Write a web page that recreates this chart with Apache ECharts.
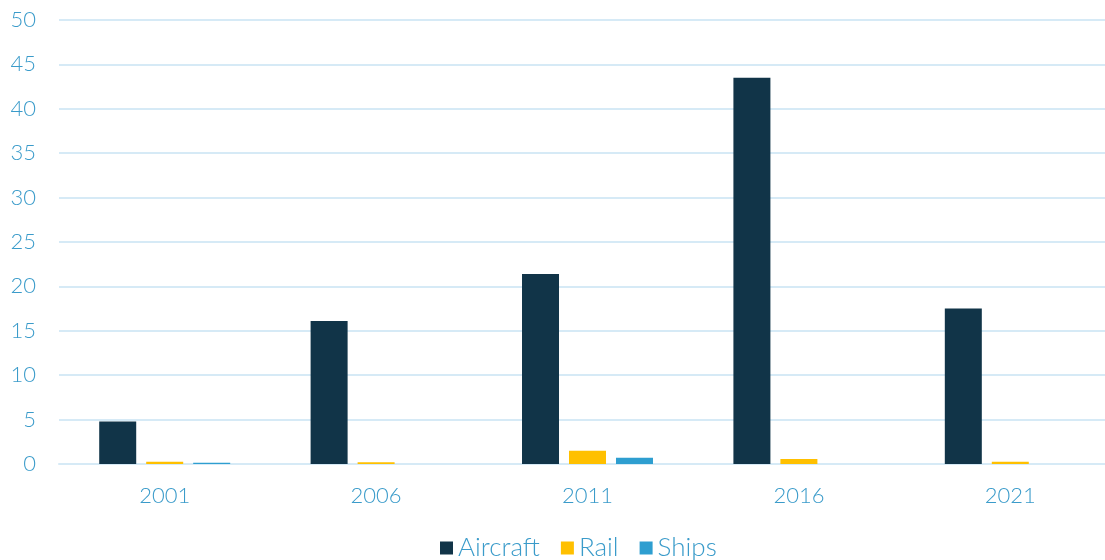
<!DOCTYPE html>
<html>
<head>
<meta charset="utf-8">
<script src="https://cdn.jsdelivr.net/npm/echarts@6/dist/echarts.min.js"></script>
<style>
  html, body { margin: 0; padding: 0; background: #fff; }
  #chart { width: 1105px; height: 560px; }
</style>
</head>
<body>
<div id="chart"></div>
<script>
  // data
  const years = ['2001', '2006', '2011', '2016', '2021'];
  const aircraft = [4.8, 16.1, 21.4, 43.5, 17.5];
  const rail = [0.25, 0.2, 1.5, 0.55, 0.25];
  const ships = [0.15, 0, 0.7, 0, 0];

  const textColor = '#3A9BCA';
  const font = 'Lato, "Open Sans", sans-serif';

  const chart = echarts.init(document.getElementById('chart'));

  const option = {
    animation: false,
    textStyle: { fontFamily: font },
    grid: { left: 59, top: 20, width: 1057, height: 444, outerBoundsMode: 'none', containLabel: false },
    legend: {
      bottom: -6,
      left: 435,
      icon: 'rect',
      itemWidth: 13,
      itemHeight: 13,
      itemGap: 21,
      textStyle: { color: textColor, fontSize: 26, fontWeight: 300, fontFamily: font },
      data: ['Aircraft', 'Rail', 'Ships'],
    },
    xAxis: {
      type: 'category',
      data: years,
      axisLine: { show: true, lineStyle: { color: '#D6EAF6', width: 2 } },
      axisTick: { show: false },
      axisLabel: { color: textColor, fontSize: 22, fontWeight: 300, margin: 21 },
    },
    yAxis: {
      type: 'value',
      min: 0,
      max: 50,
      interval: 5,
      axisLine: { show: false },
      axisTick: { show: false },
      axisLabel: { color: textColor, fontSize: 22, fontWeight: 300, margin: 23 },
      splitLine: { lineStyle: { color: '#D6EAF6', width: 2 } },
    },
    series: [
      {
        name: 'Aircraft',
        type: 'bar',
        data: aircraft,
        barWidth: 37,
        barGap: '27%',
        itemStyle: { color: '#113448' },
      },
      {
        name: 'Rail',
        type: 'bar',
        data: rail,
        barWidth: 37,
        itemStyle: { color: '#FFC000' },
      },
      {
        name: 'Ships',
        type: 'bar',
        data: ships,
        barWidth: 37,
        itemStyle: { color: '#2E9ED0' },
      },
    ],
  };

  chart.setOption(option);
</script>
</body>
</html>
